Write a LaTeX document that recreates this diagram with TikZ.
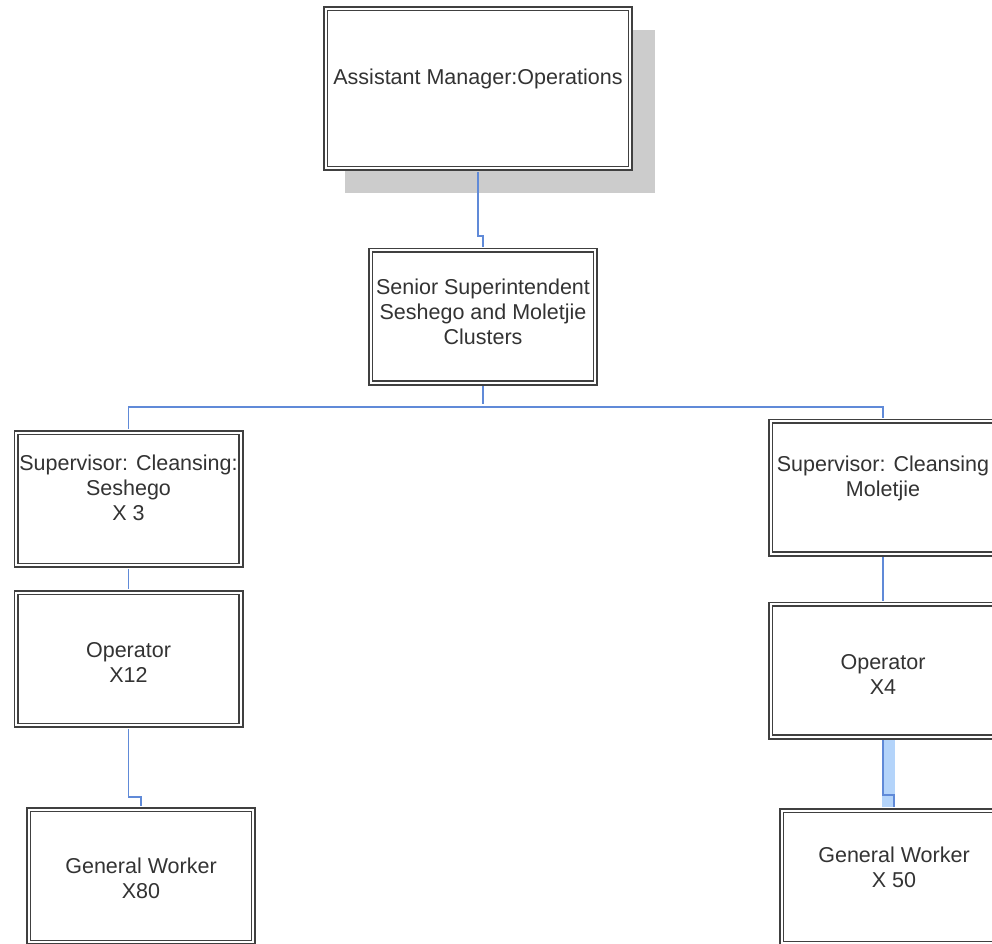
\documentclass[tikz,border=0pt]{standalone}
\usepackage{fontspec}
\setmainfont{Liberation Sans}
\usetikzlibrary{shadows}
\definecolor{linkblue}{RGB}{96,138,216}
\definecolor{selblue}{RGB}{180,212,250}
\definecolor{boxline}{RGB}{64,64,64}
\definecolor{shadowgray}{RGB}{204,204,204}
\tikzset{
  post/.style={draw=boxline, fill=white, line width=1.7pt, double=white, double distance=1.9pt,
    minimum width=224.7pt, minimum height=132.7pt, inner sep=0pt},
  postname/.style={font=\fontsize{21.5}{25}\selectfont, text=black!80, align=center, inner sep=0pt},
  link/.style={draw=linkblue, line width=1.6pt, shorten <=2.65pt, shorten >=2.65pt}
}
\begin{document}
\begin{tikzpicture}[x=1pt, y=-1pt]
\useasboundingbox (0,0) rectangle (992,943);
% boxes
\node[post, minimum width=304.7pt, minimum height=159.7pt,
  drop shadow={shadow xshift=21.5pt, shadow yshift=-22.5pt, shadow scale=1.02, fill=shadowgray, opacity=1}] (mgr) at (478,88.5) {};
\node[post] (sen) at (483,316.5) {};
\node[post] (lsup) at (128.5,499) {};
\node[post] (lop) at (128.5,659) {};
\node[post] (lgw) at (141,876) {};
\node[post] (rsup) at (883,487.5) {};
\node[post] (rop) at (883,670.5) {};
\node[post] (rgw) at (894,877) {};
% texts
\node[postname] (mgr-t) at (478,79) {Assistant Manager:Operations};
\node[postname] (sen-t) at (483,312) {Senior Superintendent\\Seshego and Moletjie\\Clusters};
\node[postname] (lsup-t) at (128.5,488) {Supervisor: Cleansing:\\Seshego\\X 3};
\node[postname] (lop-t) at (128.5,662) {Operator\\X12};
\node[postname] (lgw-t) at (141,878.5) {General Worker\\X80};
\node[postname] (rsup-t) at (883,478) {Supervisor: Cleansing\\Moletjie};
\node[postname] (rop-t) at (883,674.5) {Operator\\X4};
\node[postname] (rgw-t) at (894,867.5) {General Worker\\X 50};
% connectors
\coordinate (bus) at (483,407);
\draw[link] (mgr.south) -- (478,236) -- (483,236) -- (sen.north);
\draw[link] (sen.south) -- (bus);
\draw[link] (lsup.north) -- (lsup.north |- bus) -- (rsup.north |- bus) -- (rsup.north);
\draw[link] (lsup.south) -- (lop.north);
\draw[link] (lop.south) -- (lop.south |- 0,797) -| (lgw.north);
\draw[link] (rsup.south) -- (rop.north);
\fill[selblue] (882,740) rectangle (895,807);
\draw[link] (rop.south) -- (rop.south |- 0,795) -| (rgw.north);
\end{tikzpicture}
\end{document}
